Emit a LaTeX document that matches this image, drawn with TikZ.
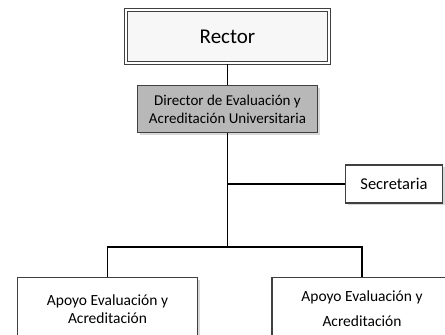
\documentclass[tikz,border=0pt]{standalone}
\usepackage{fontspec}
\setmainfont{Carlito}
\usetikzlibrary{shadows}
\definecolor{boxline}{RGB}{64,64,64}
\definecolor{dirfill}{RGB}{184,184,184}
\begin{document}
\begin{tikzpicture}[x=1pt,y=-1pt,
  orgbox/.style={draw=boxline, line width=1.2pt, fill=white, inner sep=0pt, align=center,
    font=\fontsize{15}{18}\selectfont,
    drop shadow={shadow xshift=2pt, shadow yshift=-2pt, fill=black!30, opacity=0.5}},
  link/.style={draw=black, line width=1.7pt}]
\clip (0,0) rectangle (445,335);
\useasboundingbox (0,0) rectangle (445,335);

% top of the chart
\node[orgbox, double=white, line width=0.9pt, double distance=1.8pt, fill=black!3,
  minimum width=203.4, minimum height=53.4, font=\fontsize{21}{24}\selectfont]
  (rector) at (227.5,36.5) {Rector};
\node[orgbox, fill=dirfill, minimum width=180, minimum height=47]
  (director) at (227.5,109) {Director de Evaluación y\\Acreditación Universitaria};
\node[orgbox, minimum width=97, minimum height=38, font=\fontsize{16.5}{20}\selectfont]
  (sec) at (394,184) {Secretaria};

% lower units (boxes run past the page edge)
\node[orgbox, anchor=north, minimum width=180, minimum height=100] (apoyoA) at (107.5,277) {};
\node[orgbox, anchor=north, minimum width=180, minimum height=100] (apoyoB) at (362,277) {};
\node[align=center, inner sep=0pt, font=\fontsize{15.5}{18}\selectfont] (textA) at (107.5,309) {Apoyo Evaluación y\\Acreditación};
\node[align=center, inner sep=0pt, font=\fontsize{15.5}{25}\selectfont] (textB) at (362,309) {Apoyo Evaluación y\\Acreditación};

% connectors
\coordinate (hub) at (227.5,247);
\draw[link] (rector.south) -- (director.north);
\draw[link] (director.south) -- (hub);
\draw[link] (director.south |- sec.west) -- (sec.west);
\draw[link] (apoyoA.north) -- (apoyoA.north |- hub) -- (apoyoB.north |- hub) -- (apoyoB.north);
\end{tikzpicture}
\end{document}
